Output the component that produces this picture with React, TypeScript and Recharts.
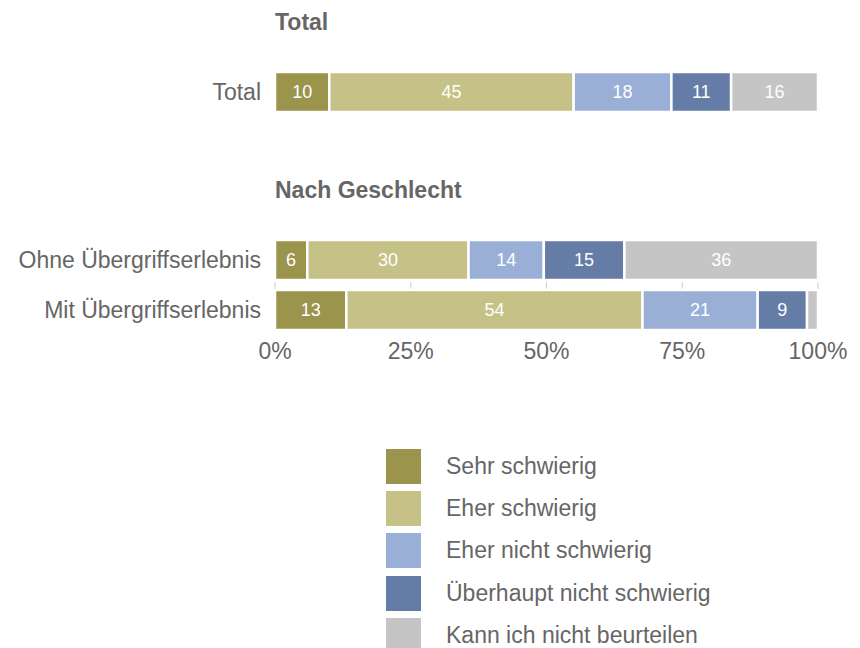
import React from 'react';
import { BarChart, Bar, XAxis, YAxis, CartesianGrid, LabelList } from 'recharts';

const seriesKeys = ['sehr', 'eher', 'eherNicht', 'ueberhaupt', 'kann'];
const seriesNames = [
  'Sehr schwierig',
  'Eher schwierig',
  'Eher nicht schwierig',
  'Überhaupt nicht schwierig',
  'Kann ich nicht beurteilen',
];
const seriesColors = ['#9b944c', '#c6c187', '#9aafd5', '#647ca6', '#c5c5c5'];

const totalCategories = ['Total'];
const totalValues = [[10, 45, 18, 11, 16]];

const genderCategories = ['Ohne Übergriffserlebnis', 'Mit Übergriffserlebnis'];
const genderValues = [
  [6, 30, 14, 15, 36],
  [13, 54, 21, 9, 2],
];

const xTicks = [0, 0.25, 0.5, 0.75, 1];

const font = '"Liberation Sans", Arial, Helvetica, sans-serif';
const textColor = '#666';

function toRows(cats: string[], vals: number[][]) {
  return cats.map((name, i) => {
    const row: Record<string, string | number> = { name };
    seriesKeys.forEach((k, j) => (row[k] = vals[i][j]));
    return row;
  });
}

const totalData = toRows(totalCategories, totalValues);
const genderData = toRows(genderCategories, genderValues);

const showLabel = (v: any) => (Number(v) >= 3 ? v : '');

function renderBars() {
  return seriesKeys.map((k, i) => (
    <Bar key={k} dataKey={k} stackId="a" fill={seriesColors[i]} stroke="#fff" strokeWidth={2.5} isAnimationActive={false}>
      <LabelList dataKey={k} position="center" fill="#fff" fontSize={18} fontFamily={font} formatter={showLabel} />
    </Bar>
  ));
}

const gridTick = (props: any) => {
  const mid = (props.y1 + props.y2) / 2;
  return <line key={props.key} x1={props.x1} x2={props.x2} y1={mid - 3} y2={mid + 4} stroke="#cfcfcf" strokeWidth={1} />;
};

const titleStyle: React.CSSProperties = {
  position: 'absolute',
  left: 275,
  fontFamily: font,
  fontWeight: 'bold',
  fontSize: 23,
  color: textColor,
  lineHeight: '26px',
};

const tickStyle = { fill: textColor, fontSize: 23, fontFamily: font };

export default function App() {
  return (
    <div style={{ position: 'absolute', left: 0, top: 0, width: 860, height: 648, background: '#fff', fontFamily: font }}>
      <div style={{ ...titleStyle, top: 9 }}>Total</div>
      <div style={{ position: 'absolute', left: 0, top: 67 }}>
        <BarChart width={860} height={50} data={totalData} layout="vertical" stackOffset="expand"
          margin={{ top: 0, right: 42, bottom: 0, left: 0 }} barCategoryGap={5}>
          <XAxis type="number" domain={[0, 1]} hide />
          <YAxis type="category" dataKey="name" width={275} axisLine={false} tickLine={false} tickMargin={8}
            tick={tickStyle} />
          {renderBars()}
        </BarChart>
      </div>

      <div style={{ ...titleStyle, top: 177 }}>Nach Geschlecht</div>
      <div style={{ position: 'absolute', left: 0, top: 235 }}>
        <BarChart width={860} height={135} data={genderData} layout="vertical" stackOffset="expand"
          margin={{ top: 0, right: 42, bottom: 0, left: 0 }} barCategoryGap={5}>
          <CartesianGrid horizontal={false} vertical={gridTick} verticalValues={xTicks} />
          <XAxis type="number" domain={[0, 1]} ticks={xTicks} axisLine={false} tickLine={false} height={35}
            tickFormatter={(v: number) => `${Math.round(v * 100)}%`}
            tick={tickStyle} />
          <YAxis type="category" dataKey="name" width={275} axisLine={false} tickLine={false} tickMargin={8}
            tick={tickStyle} />
          {renderBars()}
        </BarChart>
      </div>

      <div style={{ position: 'absolute', left: 386, top: 445 }}>
        {seriesNames.map((n, i) => (
          <div key={n} style={{ display: 'flex', alignItems: 'center', height: 42.3 }}>
            <div style={{ width: 35, height: 35, background: seriesColors[i], marginRight: 25 }} />
            <span style={{ fontSize: 23, color: textColor, fontFamily: font }}>{n}</span>
          </div>
        ))}
      </div>
    </div>
  );
}
